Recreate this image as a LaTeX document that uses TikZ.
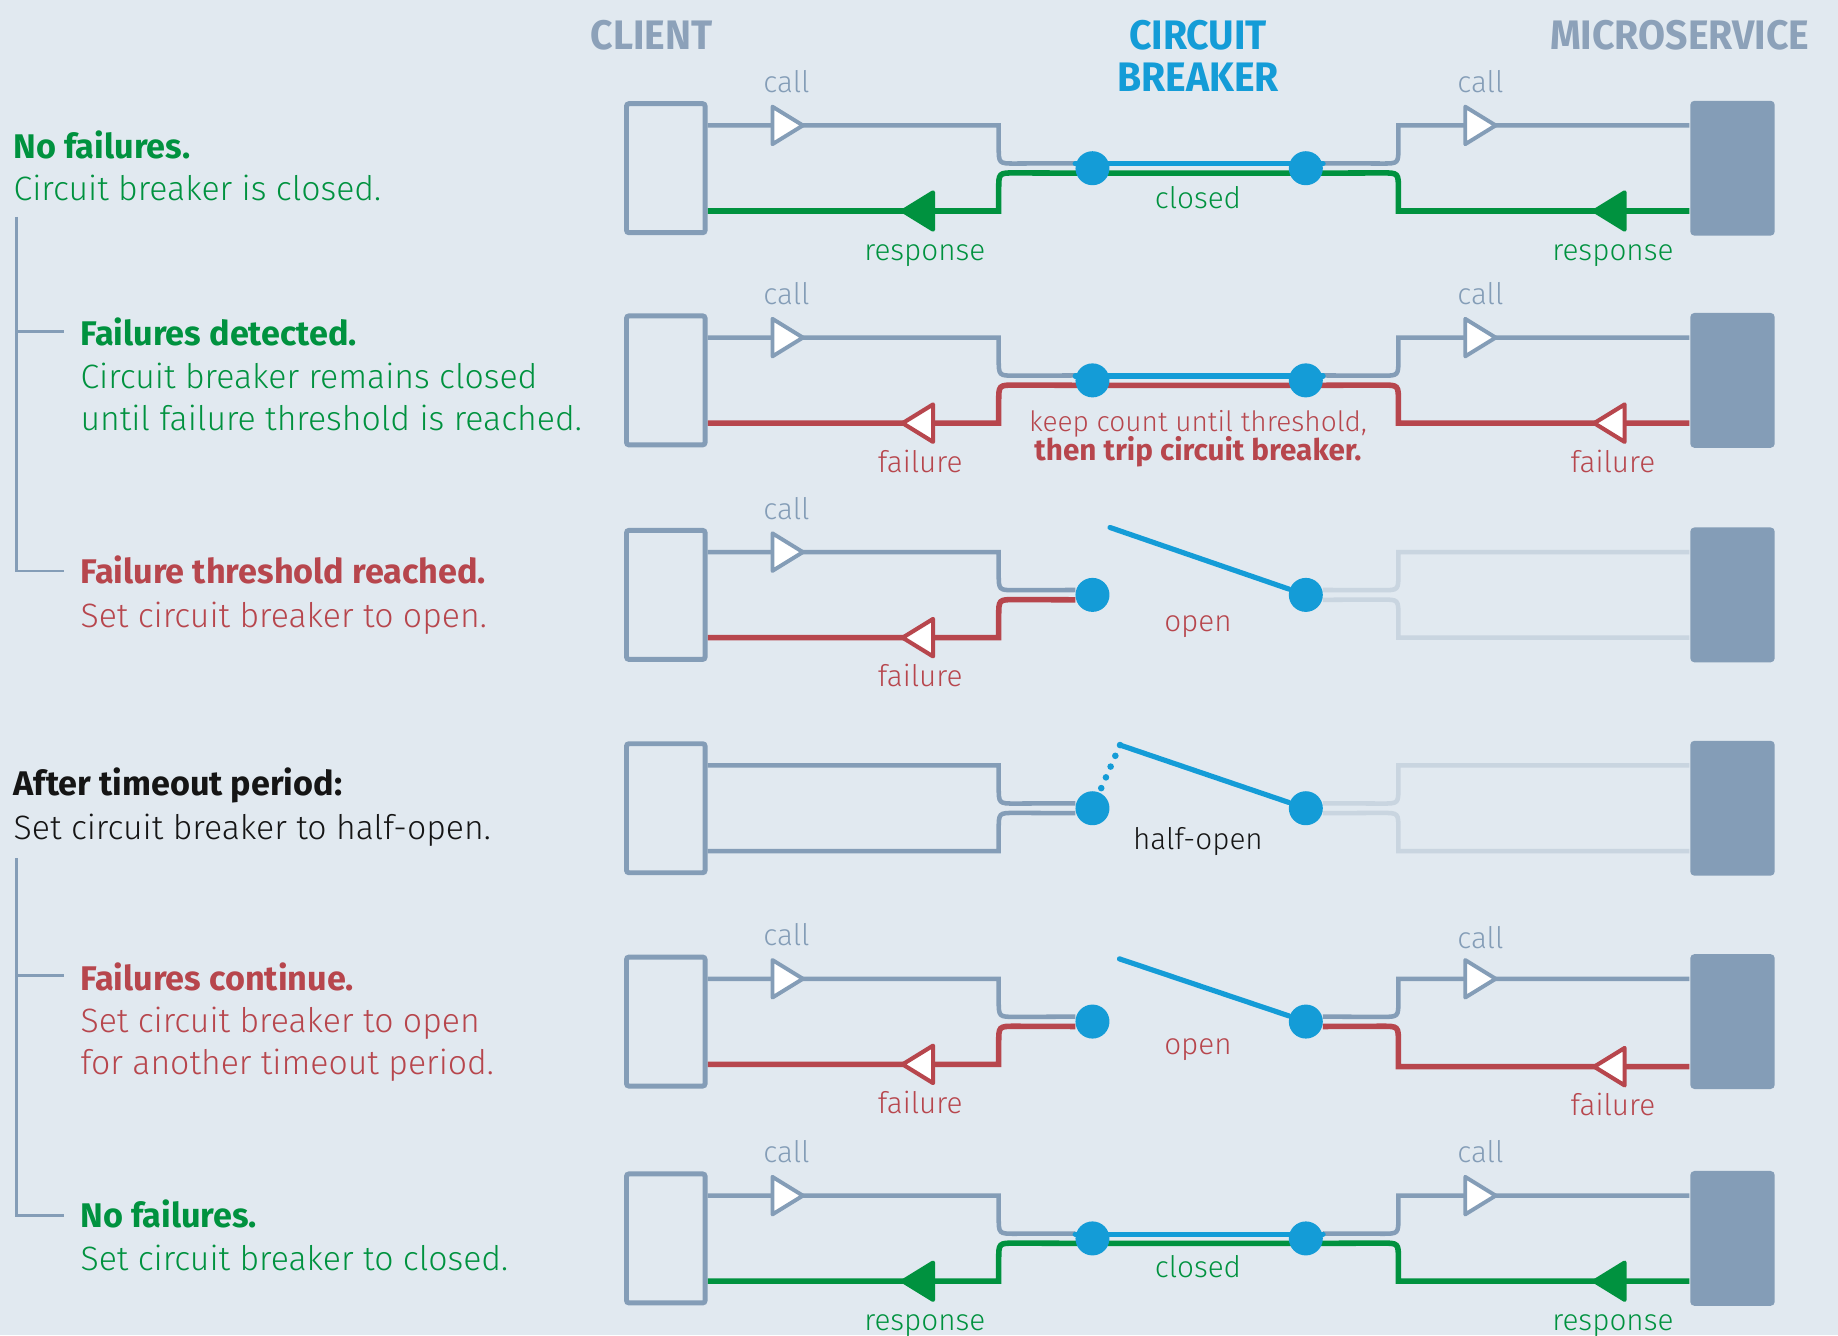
\documentclass[tikz,border=0pt]{standalone}
\usepackage{fontspec}
\IfFontExistsTF{Fira Sans Light}
  {\setmainfont{Fira Sans Light}[BoldFont={Fira Sans Bold}]}
  {\setmainfont{Fira Sans}}
\newfontfamily\headfont{Fira Sans}[FakeStretch=0.95]

\definecolor{bgcol}{HTML}{E1E9F0}
\definecolor{linegray}{HTML}{849DB7}
\definecolor{fadegray}{HTML}{C9D5E0}
\definecolor{headgray}{HTML}{8CA1B9}
\definecolor{cbblue}{HTML}{149CD7}
\definecolor{okgreen}{HTML}{00923F}
\definecolor{badred}{HTML}{B7464D}
\definecolor{inkblack}{HTML}{151515}

\pgfdeclarelayer{bg}
\pgfdeclarelayer{wires}
\pgfsetlayers{bg,wires,main}

\tikzset{
  client/.style={draw=linegray, line width=1.2pt, rounded corners=0.6pt,
    minimum width=0.67cm, minimum height=1.10cm, inner sep=0},
  service/.style={fill=linegray, rounded corners=1pt,
    minimum width=0.72cm, minimum height=1.15cm, inner sep=0},
  blob/.style={circle, fill=cbblue, minimum size=0.29cm, inner sep=0},
  wire/.style={line width=1.1pt, draw=linegray},
  fadewire/.style={line width=1.1pt, draw=fadegray},
  okwire/.style={line width=1.35pt, draw=okgreen},
  badwire/.style={line width=1.35pt, draw=badred},
  switch/.style={line width=1.25pt, draw=cbblue, line cap=round},
  halfdots/.style={line width=1.6pt, draw=cbblue, line cap=round,
    dash pattern=on 0pt off 2.85pt},
  callhead/.style={draw=linegray, fill=white, line width=0.95pt, line join=round},
  okhead/.style={draw=okgreen, fill=okgreen, line width=0.95pt, line join=round, rotate=180},
  badhead/.style={draw=badred, fill=white, line width=1pt, line join=round, rotate=180},
  lbl/.style={font=\fontsize{7.2}{8}\selectfont, inner sep=0, anchor=base},
  desc/.style={font=\fontsize{8.2}{10}\selectfont, inner sep=0, anchor=base west},
  deschead/.style={font=\bfseries\fontsize{8.3}{10}\selectfont, inner sep=0, anchor=base west},
  head/.style={font=\headfont\bfseries\fontsize{10}{12}\selectfont, inner sep=0, anchor=base},
  bracket/.style={draw=linegray, line width=0.6pt},
  tri/.pic={\path[pic actions] (-13,-16) -- (13,0) -- (-13,16) -- cycle;}
}

\begin{document}
\begin{tikzpicture}[x=0.01cm, y=-0.01cm]
\begin{pgfonlayer}{bg}
  \fill[bgcol] (0,0) rectangle (1568,1139);
\end{pgfonlayer}
\useasboundingbox (0,0) rectangle (1568,1139);

% headings
\node[head, headgray] (hcl) at (556,42) {CLIENT};
\node[head, cbblue] (hcb) at (1022,42) {CIRCUIT};
\node[head, cbblue] (hbr) at (1022,78) {BREAKER};
\node[head, headgray] (hms) at (1433,42) {MICROSERVICE};

% left column
\node[deschead, okgreen] (t1a) at (11,135) {No failures.};
\node[desc, okgreen] (t1b) at (11,171) {Circuit breaker is closed.};
\node[deschead, okgreen] (t2a) at (68,295) {Failures detected.};
\node[desc, okgreen] (t2b) at (68,331) {Circuit breaker remains closed};
\node[desc, okgreen] (t2c) at (68,367) {until failure threshold is reached.};
\node[deschead, badred] (t3a) at (68,498) {Failure threshold reached.};
\node[desc, badred] (t3b) at (68,535) {Set circuit breaker to open.};
\node[deschead, inkblack] (t4a) at (11,679) {After timeout period:};
\node[desc, inkblack] (t4b) at (11,716) {Set circuit breaker to half-open.};
\node[deschead, badred] (t5a) at (68,845) {Failures continue.};
\node[desc, badred] (t5b) at (68,881) {Set circuit breaker to open};
\node[desc, badred] (t5c) at (68,917) {for another timeout period.};
\node[deschead, okgreen] (t6a) at (68,1047) {No failures.};
\node[desc, okgreen] (t6b) at (68,1084) {Set circuit breaker to closed.};

\coordinate (k1) at (14,185);
\coordinate (k2) at (55,283);
\coordinate (k3) at (55,487);
\draw[bracket] (k1) |- (k3);
\draw[bracket] (k1 |- k2) -- (k2);
\coordinate (k4) at (14,732);
\coordinate (k5) at (55,832);
\coordinate (k6) at (55,1037);
\draw[bracket] (k4) |- (k6);
\draw[bracket] (k4 |- k5) -- (k5);

% boxes and contacts
\foreach \r/\s in {1/87, 2/268, 3/451, 4/633, 5/815, 6/1000} {
  \node[client] (cl\r) at (568,56.5+\s) {};
  \node[service] (ms\r) at (1478,56.5+\s) {};
  \node[blob] (bl\r) at (932,56.5+\s) {};
  \node[blob] (br\r) at (1114,56.5+\s) {};
}

% row 1: closed
\begin{scope}[shift={(0,87)}]
  \begin{pgfonlayer}{wires}
    \draw[wire] (cl1.east |- 0,20) -- (852,20) -- (852,38) .. controls (852,52.5) .. (866,52.5) -- (bl1.164);
    \draw[wire] (br1.16) -- (1179,52.5) .. controls (1193,52.5) .. (1193,38) -- (1193,20) -- (ms1.west |- 0,20);
    \draw[okwire] (ms1.west |- 0,93) -- (1193,93) -- (1193,75) .. controls (1193,60.5) .. (1179,60.5)
      -- (br1.-16) -- (bl1.196) -- (866,60.5) .. controls (852,60.5) .. (852,75) -- (852,93) -- (cl1.east |- 0,93);
  \end{pgfonlayer}
  \draw[switch] (bl1.166) -- (br1.14);
  \pic[callhead] at (672,20) {tri};
  \pic[callhead] at (1263,20) {tri};
  \pic[okhead] at (783,93) {tri};
  \pic[okhead] at (1373,93) {tri};
  \node[lbl, linegray] (c1l) at (671,-8) {call};
  \node[lbl, linegray] (c1r) at (1263,-8) {call};
  \node[lbl, okgreen] (r1l) at (789,135) {response};
  \node[lbl, okgreen] (r1r) at (1376,135) {response};
  \node[lbl, okgreen] (s1) at (1022,90.5) {closed};
\end{scope}

% row 2: failures counted
\begin{scope}[shift={(0,268)}]
  \begin{pgfonlayer}{wires}
    \draw[wire] (cl2.east |- 0,20) -- (852,20) -- (852,38) .. controls (852,52.5) .. (866,52.5) -- (bl2.164);
    \draw[wire] (br2.16) -- (1179,52.5) .. controls (1193,52.5) .. (1193,38) -- (1193,20) -- (ms2.west |- 0,20);
    \draw[badwire] (ms2.west |- 0,93) -- (1193,93) -- (1193,75) .. controls (1193,60.5) .. (1179,60.5)
      -- (br2.-16) -- (bl2.196) -- (866,60.5) .. controls (852,60.5) .. (852,75) -- (852,93) -- (cl2.east |- 0,93);
  \end{pgfonlayer}
  \draw[switch] (bl2.166) -- (br2.14);
  \pic[callhead] at (672,20) {tri};
  \pic[callhead] at (1263,20) {tri};
  \pic[badhead] at (783,93) {tri};
  \pic[badhead] at (1373,93) {tri};
  \node[lbl, linegray] (c2l) at (671,-8) {call};
  \node[lbl, linegray] (c2r) at (1263,-8) {call};
  \node[lbl, badred] (f2l) at (785,135) {failure};
  \node[lbl, badred] (f2r) at (1376,135) {failure};
  \node[lbl, badred, font=\fontsize{6.8}{8}\selectfont] (s2a) at (1022,100) {keep count until threshold,};
  \node[lbl, badred] (s2b) at (1022,124.5) {\textbf{then trip circuit breaker.}};
\end{scope}

% row 3: open
\begin{scope}[shift={(0,451)}]
  \begin{pgfonlayer}{wires}
    \draw[wire] (cl3.east |- 0,20) -- (852,20) -- (852,38) .. controls (852,52.5) .. (866,52.5) -- (bl3.164);
    \draw[badwire] (bl3.196) -- (866,60.5) .. controls (852,60.5) .. (852,75) -- (852,93) -- (cl3.east |- 0,93);
    \draw[fadewire] (br3.16) -- (1179,52.5) .. controls (1193,52.5) .. (1193,38) -- (1193,20) -- (ms3.west |- 0,20);
    \draw[fadewire] (br3.-16) -- (1179,60.5) .. controls (1193,60.5) .. (1193,75) -- (1193,93) -- (ms3.west |- 0,93);
  \end{pgfonlayer}
  \coordinate (sw3) at (947,-1);
  \draw[switch] (sw3) -- (br3);
  \pic[callhead] at (672,20) {tri};
  \pic[badhead] at (783,93) {tri};
  \node[lbl, linegray] (c3l) at (671,-8) {call};
  \node[lbl, badred] (f3l) at (785,135) {failure};
  \node[lbl, badred] (s3) at (1022,88) {open};
\end{scope}

% row 4: half-open
\begin{scope}[shift={(0,633)}]
  \begin{pgfonlayer}{wires}
    \draw[wire] (cl4.east |- 0,20) -- (852,20) -- (852,38) .. controls (852,52.5) .. (866,52.5) -- (bl4.164);
    \draw[wire] (bl4.196) -- (866,60.5) .. controls (852,60.5) .. (852,75) -- (852,93) -- (cl4.east |- 0,93);
    \draw[fadewire] (br4.16) -- (1179,52.5) .. controls (1193,52.5) .. (1193,38) -- (1193,20) -- (ms4.west |- 0,20);
    \draw[fadewire] (br4.-16) -- (1179,60.5) .. controls (1193,60.5) .. (1193,75) -- (1193,93) -- (ms4.west |- 0,93);
  \end{pgfonlayer}
  \coordinate (sw4) at (955.5,2.6);
  \draw[switch] (sw4) -- (br4);
  \draw[halfdots] (sw4) -- (bl4);
  \node[lbl, inkblack] (s4) at (1022,91.5) {half-open};
\end{scope}

% row 5: open again
\begin{scope}[shift={(0,815)}]
  \begin{pgfonlayer}{wires}
    \draw[wire] (cl5.east |- 0,20) -- (852,20) -- (852,38) .. controls (852,52.5) .. (866,52.5) -- (bl5.164);
    \draw[badwire] (bl5.196) -- (866,60.5) .. controls (852,60.5) .. (852,75) -- (852,93) -- (cl5.east |- 0,93);
    \draw[wire] (br5.16) -- (1179,52.5) .. controls (1193,52.5) .. (1193,38) -- (1193,20) -- (ms5.west |- 0,20);
    \draw[badwire] (ms5.west |- 0,95) -- (1193,95) -- (1193,75) .. controls (1193,60.5) .. (1179,60.5) -- (br5.-16);
  \end{pgfonlayer}
  \coordinate (sw5) at (955,3);
  \draw[switch] (sw5) -- (br5);
  \pic[callhead] at (672,20) {tri};
  \pic[callhead] at (1263,20) {tri};
  \pic[badhead] at (783,93) {tri};
  \pic[badhead] at (1373,95) {tri};
  \node[lbl, linegray] (c5l) at (671,-8) {call};
  \node[lbl, linegray] (c5r) at (1263,-6) {call};
  \node[lbl, badred] (f5l) at (785,135) {failure};
  \node[lbl, badred] (f5r) at (1376,137) {failure};
  \node[lbl, badred] (s5) at (1022,85) {open};
\end{scope}

% row 6: closed again
\begin{scope}[shift={(0,1000)}]
  \begin{pgfonlayer}{wires}
    \draw[wire] (cl6.east |- 0,20) -- (852,20) -- (852,38) .. controls (852,52.5) .. (866,52.5) -- (bl6.164);
    \draw[wire] (br6.16) -- (1179,52.5) .. controls (1193,52.5) .. (1193,38) -- (1193,20) -- (ms6.west |- 0,20);
    \draw[okwire] (ms6.west |- 0,93) -- (1193,93) -- (1193,75) .. controls (1193,60.5) .. (1179,60.5)
      -- (br6.-16) -- (bl6.196) -- (866,60.5) .. controls (852,60.5) .. (852,75) -- (852,93) -- (cl6.east |- 0,93);
  \end{pgfonlayer}
  \draw[switch] (bl6.166) -- (br6.14);
  \pic[callhead] at (672,20) {tri};
  \pic[callhead] at (1263,20) {tri};
  \pic[okhead] at (783,93) {tri};
  \pic[okhead] at (1373,93) {tri};
  \node[lbl, linegray] (c6l) at (671,-8) {call};
  \node[lbl, linegray] (c6r) at (1263,-8) {call};
  \node[lbl, okgreen] (r6l) at (789,135) {response};
  \node[lbl, okgreen] (r6r) at (1376,135) {response};
  \node[lbl, okgreen] (s6) at (1022,90) {closed};
\end{scope}
\end{tikzpicture}
\end{document}
